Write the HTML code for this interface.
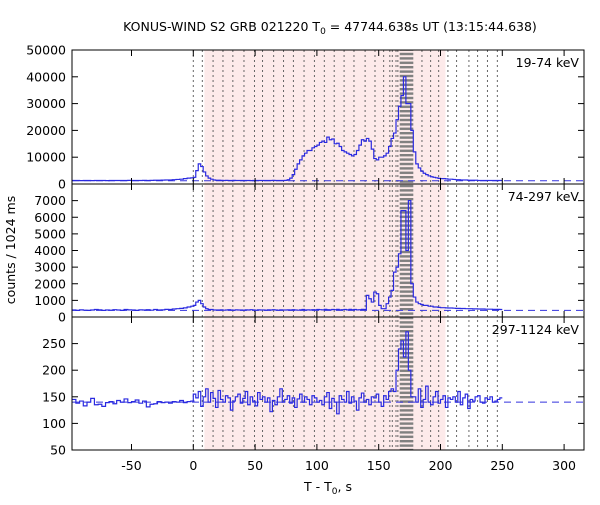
<!DOCTYPE html>
<html><head><meta charset="utf-8"><style>
body{margin:0;background:#fff;}
svg text{font-family:"DejaVu Sans","Liberation Sans",sans-serif;font-size:12.5px;fill:#000;}
</style></head><body>
<svg id="chart" width="600" height="500" viewBox="0 0 600 500" xmlns="http://www.w3.org/2000/svg">
<defs>
<pattern id="stripes" patternUnits="userSpaceOnUse" width="10" height="4.4"><rect x="0" y="0" width="10" height="2.4" fill="#808080"/></pattern>
</defs>
<g id="bg"></g>
<g id="marks"></g>
<g id="axes"></g>
<text x="330" y="31" text-anchor="middle">KONUS-WIND S2 GRB 021220 T<tspan font-size="9" dy="3">0</tspan><tspan dy="-3"> = 47744.638s UT (13:15:44.638)</tspan></text>
<text x="328" y="491" text-anchor="middle">T - T<tspan font-size="9" dy="3">0</tspan><tspan dy="-3">, s</tspan></text>
<text transform="translate(15,250) rotate(-90)" text-anchor="middle">counts / 1024 ms</text>
</svg>
<script>
const xTicks=[-50,0,50,100,150,200,250,300];
const pinkRange=[9,204];
const denseRange=[167,178];
const markerTimes=[0,7.3,16,24,32,41,49.5,56,65,73,81,89.6,98,106,114,122,130,139,147,154,159,161,164,165.5,185,192,198.5,206,213,223,230,238,246];
// panel 1 (19-74 keV)
const p1Ticks=[0,10000,20000,30000,40000,50000];
const p1Pre=[1300,1300,1250,1300,1300,1250,1300,1300,1300,1250,1300,1300,1300,1300,1300,1350,1300,1300,1300,1350,1300,1350,1400,1400,1450,1500,1500,1600,1700,1800,2000,2200,2300];
const p1Post=[2500,5000,7500,6500,4500,3000,2200,1800,1500,1400,
1400,1350,1300,1350,1300,1300,1350,1300,1300,1300,1300,1300,1300,1250,1300,1300,1300,1300,1300,1300,1300,1300,1350,1300,1300,1300,1300,1350,
1600,2200,3500,5500,7500,9000,10500,11500,12500,12500,13500,14000,
14500,15500,16000,15500,17500,16500,16800,15000,15200,14000,12500,12000,11500,11000,10500,11000,12500,14500,16500,16000,17000,16000,13000,9500,9000,10000,10000,10500,11500,14000,
17000,19000,24000,29000,33000,40000,30000,30000,20000,12000,
7500,6000,4800,4000,3500,3000,2700,2500,2300,2100,2000,2000,1900,1800,1800,1700,1600,1600,1500,1500,1500,1400,1400,1400,1400,1300,1300,1300,1300,1300,1300,1300,1300,1300,1300];
const p1Bg=1200;
// panel 2 (74-297 keV)
const p2Ticks=[0,1000,2000,3000,4000,5000,6000,7000];
const p2Pre=[420,400,430,410,400,420,450,430,400,420,410,440,420,400,450,430,420,400,430,420,440,410,450,420,430,460,450,480,500,520,550,600,650];
const p2Post=[700,900,1000,800,600,500,450,450,420,420,
420,430,410,420,440,420,410,430,420,420,410,430,420,440,420,410,430,420,420,410,430,420,440,420,410,430,420,420,
430,420,440,420,410,430,450,420,430,420,440,430,
450,440,430,460,440,430,450,440,460,430,440,450,430,460,440,450,430,440,460,450,
1300,1100,900,1500,1400,700,500,500,800,1200,
1600,2700,3000,3800,6400,6400,4000,7000,2000,1200,
900,800,750,700,700,650,650,600,600,580,560,560,550,540,540,530,520,520,510,510,500,500,500,490,490,480,480,480,470,470,470,460,460,460,450];
const p2Bg=400;
// panel 3 (297-1124 keV)
const p3Ticks=[50,100,150,200,250];
const p3Pre=[145,138,142,133,140,147,135,136,132,139,141,137,143,140,146,139,141,144,138,142,131,136,137,141,139,140,138,141,140,143,139,141,142];
const p3Post=[155,148,160,132,150,165,140,158,147,130,162,145,140,152,148,125,142,150,155,138,147,160,135,150,142,133,158,145,150,140,148,122,143,135,150,165,140,145,152,138,148,130,146,155,140,150,145,135,152,148,140,143,135,150,158,128,147,140,118,152,145,140,160,138,150,142,125,148,157,140,145,135,150,148,155,140,132,152,145,160,
165,160,200,240,255,225,272,200,
150,150,140,165,130,145,170,140,135,150,160,138,145,152,130,148,145,150,140,160,135,148,155,128,145,142,150,152,140,138,148,145,150,140,142,145,148];
const p3Bg=140;

const NS='http://www.w3.org/2000/svg';
const X0=72,X1=584;
const xS=t=>193.3+1.236*t;
const panels=[
 {top:50,bot:184,min:0,max:50000,ticks:p1Ticks,pre:p1Pre,post:p1Post,bg:p1Bg,label:'19-74 keV',name:'panel-19-74'},
 {top:184,bot:317,min:0,max:8000,ticks:p2Ticks,pre:p2Pre,post:p2Post,bg:p2Bg,label:'74-297 keV',name:'panel-74-297'},
 {top:317,bot:450,min:50,max:300,ticks:p3Ticks,pre:p3Pre,post:p3Post,bg:p3Bg,label:'297-1124 keV',name:'panel-297-1124'}
];
function mk(tag,attrs,parent){const e=document.createElementNS(NS,tag);for(const k in attrs)e.setAttribute(k,attrs[k]);parent.appendChild(e);return e;}
const bgG=document.getElementById('bg'),mG=document.getElementById('marks'),aG=document.getElementById('axes');
let r=mk('rect',{x:xS(pinkRange[0]),y:50,width:xS(pinkRange[1])-xS(pinkRange[0]),height:400,fill:'#fdeaea'},bgG);


r=mk('rect',{x:xS(denseRange[0]),y:50,width:xS(denseRange[1])-xS(denseRange[0]),height:400,fill:'url(#stripes)'},bgG);


markerTimes.forEach(t=>{
 const l=mk('line',{x1:xS(t),x2:xS(t),y1:50,y2:450,stroke:'#666','stroke-width':1,'stroke-dasharray':'2,3'},bgG);
 
 
});
panels.forEach(p=>{
 const yS=v=>p.bot-(v-p.min)/(p.max-p.min)*(p.bot-p.top);
 const b=mk('line',{x1:X0,x2:X1,y1:yS(p.bg),y2:yS(p.bg),stroke:'#3333dd','stroke-width':1,'stroke-dasharray':'7,5'},mG);
 
 
 let t=-98;let d='M'+xS(t)+','+yS(p.pre[0]);
 p.pre.forEach(v=>{d+='V'+yS(v);t+=3;d+='H'+xS(t);});
 t=0;d+='H'+xS(0);
 p.post.forEach(v=>{d+='V'+yS(v);t+=2;d+='H'+xS(t);});
 const c=mk('path',{d:d,fill:'none',stroke:'#2a2ae0','stroke-width':1.2},mG);
 
 
 const f=mk('rect',{x:X0,y:p.top,width:X1-X0,height:p.bot-p.top,fill:'none',stroke:'#000','stroke-width':1},aG);
 
 
 p.ticks.forEach(v=>{
  const y=yS(v);
  mk('line',{x1:X0,x2:X0+6,y1:y,y2:y,stroke:'#000'},aG);
  mk('line',{x1:X1,x2:X1-6,y1:y,y2:y,stroke:'#000'},aG);
  const tx=mk('text',{x:66,y:y+4.5,'text-anchor':'end'},aG);tx.textContent=v;
  
  
 });
 xTicks.forEach(v=>{
  const x=xS(v);
  mk('line',{x1:x,x2:x,y1:p.bot,y2:p.bot-6,stroke:'#000'},aG);
  mk('line',{x1:x,x2:x,y1:p.top,y2:p.top+6,stroke:'#000'},aG);
 });
 const lb=mk('text',{x:579,y:p.top+17,'text-anchor':'end'},aG);lb.textContent=p.label;
 
 
});
xTicks.forEach(v=>{
 const tx=mk('text',{x:xS(v),y:470,'text-anchor':'middle'},aG);tx.textContent=v;
 
 
});
</script>
</body></html>
